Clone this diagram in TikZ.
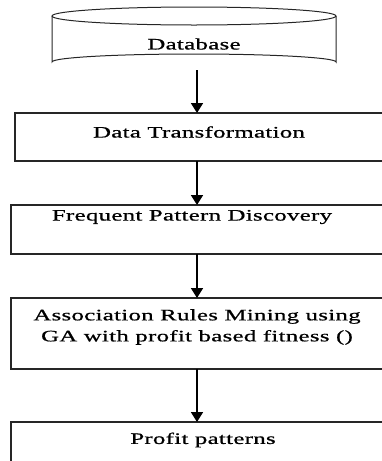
\documentclass[tikz,border=0pt]{standalone}
\usepackage{fontspec}
\setmainfont[FakeStretch=1.55,FakeBold=0.8,LetterSpace=2]{Liberation Serif}
\usetikzlibrary{arrows.meta}
\begin{document}
\begin{tikzpicture}[x=1pt,y=-1pt,
  stagebox/.style={draw=black!85,line width=1.3pt},
  label/.style={inner sep=0pt,font=\fontsize{16}{21}\selectfont,align=center},
  flow/.style={line width=1.8pt,-{Triangle[length=10pt,width=12pt]}}]
\useasboundingbox (0,0) rectangle (382,461);
\clip (0,0) rectangle (382,461);
% database cylinder
\draw[line width=1pt,black!85] (52,16) -- (52,62) arc[start angle=180,end angle=360,x radius=142,y radius=8] -- (336,16);
\draw[line width=1pt,black!85] (194,16) ellipse[x radius=142,y radius=9];
\node[label] (db) at (194,44) {Database};
\coordinate (dbout) at (197,70);
% process boxes
\draw[stagebox] (15,113) rectangle (395,161);
\coordinate (b1top) at (197,113);
\coordinate (b1bot) at (197,161);
\node[label] (t1) at (199,132) {Data Transformation};
\draw[stagebox] (11,205) rectangle (395,254);
\coordinate (b2top) at (197,205);
\coordinate (b2bot) at (197,254);
\node[label] (t2) at (192,217) {Frequent Pattern Discovery};
\draw[stagebox] (11,298) rectangle (395,369);
\coordinate (b3top) at (197,298);
\coordinate (b3bot) at (197,369);
\node[label] (t3) at (197,327) {Association Rules Mining using\\GA with profit based fitness ()};
\draw[stagebox] (11,422) rectangle (395,480);
\coordinate (b4top) at (197,422);
\node[label] (t4) at (203,440) {Profit patterns};
% connectors
\draw[flow] (dbout) -- (b1top);
\draw[flow] (b1bot) -- (b2top);
\draw[flow] (b2bot) -- (b3top);
\draw[flow] (b3bot) -- (b4top);
\end{tikzpicture}
\end{document}
